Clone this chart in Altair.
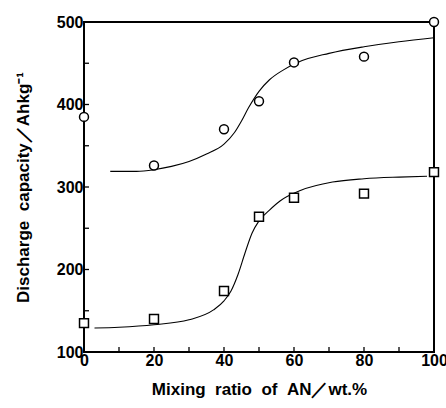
import altair as alt
import pandas as pd

# measured points
x_pts = [0, 20, 40, 50, 60, 80, 100]
circle_y = [385, 326, 370, 404, 451, 458, 500]
square_y = [135, 140, 174, 264, 287, 292, 318]

# fitted curves
upper_x = [7.5, 15, 20, 25, 30, 35, 40, 43, 45, 47, 50, 53, 57, 61, 70, 80, 90, 100]
upper_y = [319, 319, 321, 325, 331, 340, 352, 366, 380, 396, 416, 430, 442, 451, 462, 470, 476, 481]
lower_x = [3, 10, 20, 30, 37, 40, 42, 44, 46, 48, 50, 53, 56, 62, 71, 80, 90, 98]
lower_y = [129, 130, 133, 139, 151, 162, 174, 194, 220, 244, 259, 272, 283, 296, 306, 310, 312, 313]

x_minor = [10, 20, 30, 40, 50, 60, 70, 80, 90]
y_minor = [150, 200, 250, 300, 350, 400, 450]

FONT = "Liberation Sans"

pts = pd.DataFrame({"x": x_pts, "c": circle_y, "s": square_y})
up = pd.DataFrame({"x": upper_x, "y": upper_y})
lo = pd.DataFrame({"x": lower_x, "y": lower_y})

xs = alt.Scale(domain=[0, 100], nice=False)
ys = alt.Scale(domain=[100, 500], nice=False)

xaxis = alt.Axis(values=[0, 20, 40, 60, 80, 100], ticks=False, domain=False, grid=False,
                 labelFont=FONT, labelFontWeight="bold", labelFontSize=16, labelColor="black",
                 labelPadding=0, labelFlush=False, labelOverlap=False,
                 title="Mixing\u00a0\u00a0ratio\u00a0\u00a0of\u00a0\u00a0AN\uff0fwt.%",
                 titleFont=FONT, titleFontWeight="bold", titleFontSize=17, titleColor="black",
                 titleY=37, titleBaseline="middle")
yaxis = alt.Axis(values=[100, 200, 300, 400, 500], ticks=False, domain=False, grid=False,
                 labelFont=FONT, labelFontWeight="bold", labelFontSize=16, labelColor="black",
                 labelPadding=1, labelFlush=False, labelOverlap=False,
                 title="Discharge\u00a0\u00a0capacity\uff0fAhkg\u207b\u00b9",
                 titleFont=FONT, titleFontWeight="bold", titleFontSize=17, titleColor="black",
                 titleX=-61, titleY=165, titleAngle=-90, titleBaseline="middle")

base_pts = alt.Chart(pts)
circles = base_pts.mark_point(shape="circle", filled=True, fill="white", stroke="black",
                              strokeWidth=1.5, size=80, opacity=1).encode(
    x=alt.X("x:Q", scale=xs, axis=xaxis), y=alt.Y("c:Q", scale=ys, axis=yaxis))
squares = base_pts.mark_point(shape="square", filled=True, fill="white", stroke="black",
                              strokeWidth=1.5, size=80, opacity=1).encode(
    x=alt.X("x:Q", scale=xs), y=alt.Y("s:Q", scale=ys))

upper_line = alt.Chart(up).mark_line(color="black", strokeWidth=1.1, interpolate="monotone").encode(
    x=alt.X("x:Q", scale=xs), y=alt.Y("y:Q", scale=ys))
lower_line = alt.Chart(lo).mark_line(color="black", strokeWidth=1.1, interpolate="monotone").encode(
    x=alt.X("x:Q", scale=xs), y=alt.Y("y:Q", scale=ys))

xt = alt.Chart(pd.DataFrame({"x": x_minor})).mark_rule(color="black", strokeWidth=1.3).encode(
    x=alt.X("x:Q", scale=xs), y=alt.value(330), y2=alt.value(325))
yt = alt.Chart(pd.DataFrame({"y": y_minor})).mark_rule(color="black", strokeWidth=1.3).encode(
    y=alt.Y("y:Q", scale=ys), x=alt.value(0), x2=alt.value(5))

chart = alt.layer(upper_line, lower_line, xt, yt, circles, squares).properties(
    width=350, height=330,
    autosize=alt.AutoSizeParams(type="none"),
    padding={"left": 84, "top": 22, "right": 12, "bottom": 56},
    background="white",
).configure_view(stroke="black", strokeWidth=2)

chart.save("out.html", embed_options={"renderer": "svg", "actions": False})
